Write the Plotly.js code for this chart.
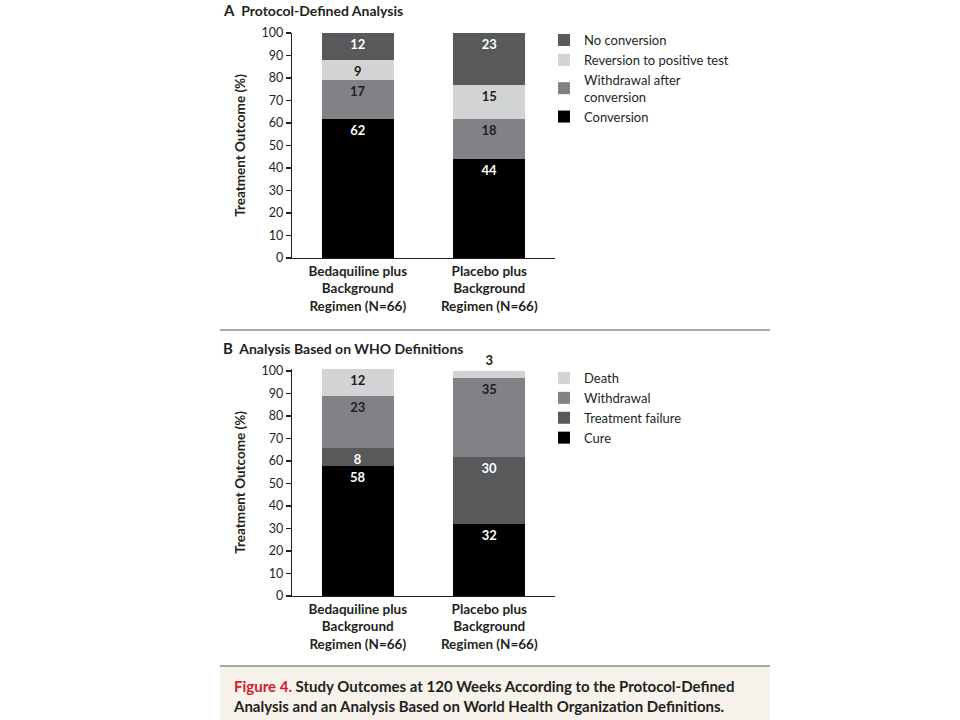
<!DOCTYPE html>
<html>
<head>
<meta charset="utf-8">
<script src="https://cdn.plot.ly/plotly-3.0.1.min.js"></script>
<style>
  html, body { margin: 0; padding: 0; background: #ffffff; }
  #chart { width: 960px; height: 720px; }
</style>
</head>
<body>
<div id="chart"></div>
<script>
// ---- Data ----
const groups = ['Bedaquiline plus<br>Background<br>Regimen (N=66)', 'Placebo plus<br>Background<br>Regimen (N=66)'];

// Panel A: Protocol-defined analysis (%)
const conversion = [62, 44];
const withdrawalAfterConversion = [17, 18];
const reversionToPositive = [9, 15];
const noConversion = [12, 23];

// Panel B: WHO definitions (%)
const cure = [58, 32];
const treatmentFailure = [8, 30];
const withdrawalWHO = [23, 35];
const death = [12, 3];

const yTicks = [0, 10, 20, 30, 40, 50, 60, 70, 80, 90, 100];

// ---- Styles ----
const FONT = 'Lato, "Open Sans", "Noto Sans", sans-serif';
const INK = '#231f20';
const C_BLACK = '#000000';
const C_MID = '#808285';
const C_LIGHT = '#d1d3d4';
const C_DARK = '#58595b';

function barTrace(name, y, color, textColor, xa, ya, legend, textpos) {
  return {
    type: 'bar', name: name, x: groups, y: y,
    xaxis: xa, yaxis: ya, legend: legend,
    marker: { color: color, line: { width: 0 } },
    text: y.map(String), textposition: textpos || 'inside', textangle: 0,
    insidetextanchor: 'end', constraintext: 'none',
    textfont: { family: FONT, size: 13, color: textColor, weight: 'bold' },
    outsidetextfont: { family: FONT, size: 13, color: INK, weight: 'bold' },
    cliponaxis: false, hoverinfo: 'name+y'
  };
}

const data = [
  barTrace('Conversion', conversion, C_BLACK, '#ffffff', 'x', 'y', 'legend'),
  barTrace('Withdrawal after<br>conversion', withdrawalAfterConversion, C_MID, INK, 'x', 'y', 'legend'),
  barTrace('Reversion to positive test', reversionToPositive, C_LIGHT, INK, 'x', 'y', 'legend'),
  barTrace('No conversion', noConversion, C_DARK, '#ffffff', 'x', 'y', 'legend'),
  barTrace('Cure', cure, C_BLACK, '#ffffff', 'x2', 'y2', 'legend2'),
  barTrace('Treatment failure', treatmentFailure, C_DARK, '#ffffff', 'x2', 'y2', 'legend2'),
  barTrace('Withdrawal', withdrawalWHO, C_MID, INK, 'x2', 'y2', 'legend2'),
  barTrace('Death', death, C_LIGHT, INK, 'x2', 'y2', 'legend2', ['inside', 'outside'])
];

const W = 960, H = 720;
const px = v => v / W;
const py = v => 1 - v / H;

function xAxis(anchor) {
  return {
    domain: [px(292), px(555)], anchor: anchor,
    showline: true, linecolor: INK, linewidth: 1.3,
    ticks: '', showgrid: false, zeroline: false,
    tickfont: { family: FONT, size: 13.5, color: INK, weight: 'bold' },
    fixedrange: true
  };
}
function yAxis(domain, range, anchor) {
  return {
    domain: domain, anchor: anchor, range: range,
    tickvals: yTicks, ticktext: yTicks.map(String),
    showline: true, linecolor: INK, linewidth: 1.3,
    ticks: 'outside', ticklen: 5, tickwidth: 1.2, tickcolor: INK,
    showgrid: false, zeroline: false,
    tickfont: { family: FONT, size: 12.5, color: INK },
    title: { text: 'Treatment Outcome (%)', standoff: 12,
             font: { family: FONT, size: 13.5, color: INK, weight: 'bold' } },
    fixedrange: true
  };
}

const legendCommon = {
  traceorder: 'reversed', bgcolor: 'rgba(0,0,0,0)',
  font: { family: FONT, size: 13, color: INK },
  xanchor: 'left', yanchor: 'top', itemwidth: 30,
  itemclick: false, itemdoubleclick: false
};

const layout = {
  width: W, height: H,
  margin: { l: 0, r: 0, t: 0, b: 0 },
  paper_bgcolor: '#ffffff', plot_bgcolor: 'rgba(0,0,0,0)',
  barmode: 'stack', bargap: 0.45,
  showlegend: true,
  xaxis: xAxis('y'),
  yaxis: yAxis([py(258), py(33)], [0, 100], 'x'),
  xaxis2: xAxis('y2'),
  yaxis2: yAxis([py(596), py(368.75)], [0, 101], 'x2'),
  legend: Object.assign({}, legendCommon, { x: px(544), y: py(25) }),
  legend2: Object.assign({}, legendCommon, { x: px(544), y: py(363) }),
  shapes: [
    { type: 'rect', xref: 'paper', yref: 'paper', x0: px(220), x1: px(770), y0: py(720), y1: py(667),
      fillcolor: '#f7f2ec', line: { width: 0 }, layer: 'below' },
    { type: 'line', xref: 'paper', yref: 'paper', x0: px(220), x1: px(770), y0: py(330), y1: py(330),
      line: { color: '#8a8a8a', width: 1.5 } },
    { type: 'line', xref: 'paper', yref: 'paper', x0: px(220), x1: px(770), y0: py(666), y1: py(666),
      line: { color: '#8a8a8a', width: 1.5 } }
  ],
  annotations: [
    { xref: 'paper', yref: 'paper', x: px(221), y: py(10), xanchor: 'left', yanchor: 'middle', showarrow: false,
      text: '<span style="font-size:15px">A</span>  Protocol-Defined Analysis',
      font: { family: FONT, size: 14, color: INK, weight: 'bold' } },
    { xref: 'paper', yref: 'paper', x: px(221), y: py(348), xanchor: 'left', yanchor: 'middle', showarrow: false,
      text: '<span style="font-size:15px">B</span>  Analysis Based on WHO Definitions',
      font: { family: FONT, size: 14, color: INK, weight: 'bold' } },
    { xref: 'paper', yref: 'paper', x: px(231), y: py(696), xanchor: 'left', yanchor: 'middle', showarrow: false,
      align: 'left',
      text: '<span style="color:#d0202e">Figure 4.</span> Study Outcomes at 120 Weeks According to the Protocol-Defined<br>Analysis and an Analysis Based on World Health Organization Definitions.',
      font: { family: FONT, size: 15, color: INK, weight: 'bold' } }
  ]
};

Plotly.newPlot('chart', data, layout, { displayModeBar: false, staticPlot: true });
</script>
</body>
</html>
